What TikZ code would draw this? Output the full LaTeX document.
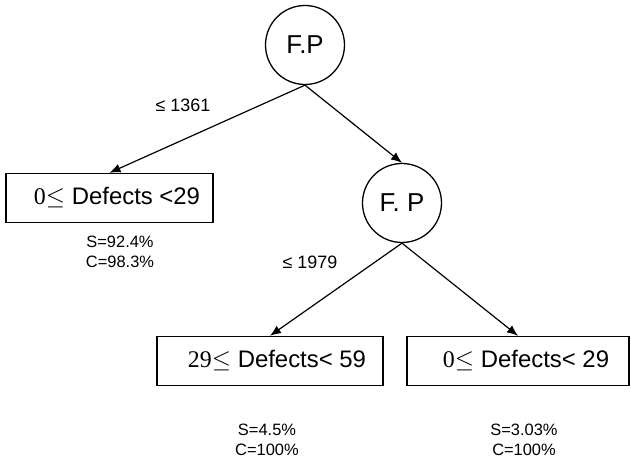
\documentclass[tikz,border=0pt]{standalone}
\usepackage{fontspec}
\setmainfont{Liberation Sans}
\newfontfamily\numserif{Liberation Serif}
\usetikzlibrary{arrows.meta}

\tikzset{
  split/.style={circle, draw, line width=1.3bp, minimum size=79bp, inner sep=0pt, font=\fontsize{26}{28}\selectfont},
  leaf/.style={rectangle, draw, line width=1.4bp, minimum height=49bp, inner sep=0pt, font=\fontsize{24}{26}\selectfont},
  cut/.style={font=\fontsize{18}{20}\selectfont},
  stat/.style={align=center, font=\fontsize{16.5}{20}\selectfont},
  branch/.style={line width=1.2bp, -{Latex[length=11bp,width=9bp]}}
}

\begin{document}
\begin{tikzpicture}[x=1bp,y=-1bp]

		\useasboundingbox (0,0) rectangle (631,461);

		% Split nodes
		\node[split] (root) at (305,45) {F.P}; % first split
		\node[split] (fp2) at (402,203) {F. P}; % second split

		% Leaves
		\node[leaf, minimum width=207bp] (leafA) at (109.5,198) {\hspace*{15bp}{\numserif 0}$\leq$ Defects <29};
		\node[leaf, minimum width=226bp] (leafB) at (270,361) {\hspace*{14bp}{\numserif 29}$\leq$ Defects< 59};
		\node[leaf, minimum width=222bp] (leafC) at (518,361) {\hspace*{16bp}{\numserif 0}$\leq$ Defects< 29};

		% Branches
		\draw[branch] (root.south) -- (leafA.north);
		\draw[branch] (root.south) -- (fp2.north);
		\draw[branch] (fp2.south) -- (leafB.north);
		\draw[branch] (fp2.south) -- (leafC.north);

		% Thresholds
		\node[cut] (cutA) at (183,105) {≤ 1361};
		\node[cut] (cutB) at (310,262) {≤ 1979};

		% Support and confidence
		\node[stat] (statA) at (120,252) {S=92.4\%\\C=98.3\%};
		\node[stat] (statB) at (267,440) {S=4.5\%\\C=100\%};
		\node[stat] (statC) at (524,440) {S=3.03\%\\C=100\%};

	\end{tikzpicture}
\end{document}
